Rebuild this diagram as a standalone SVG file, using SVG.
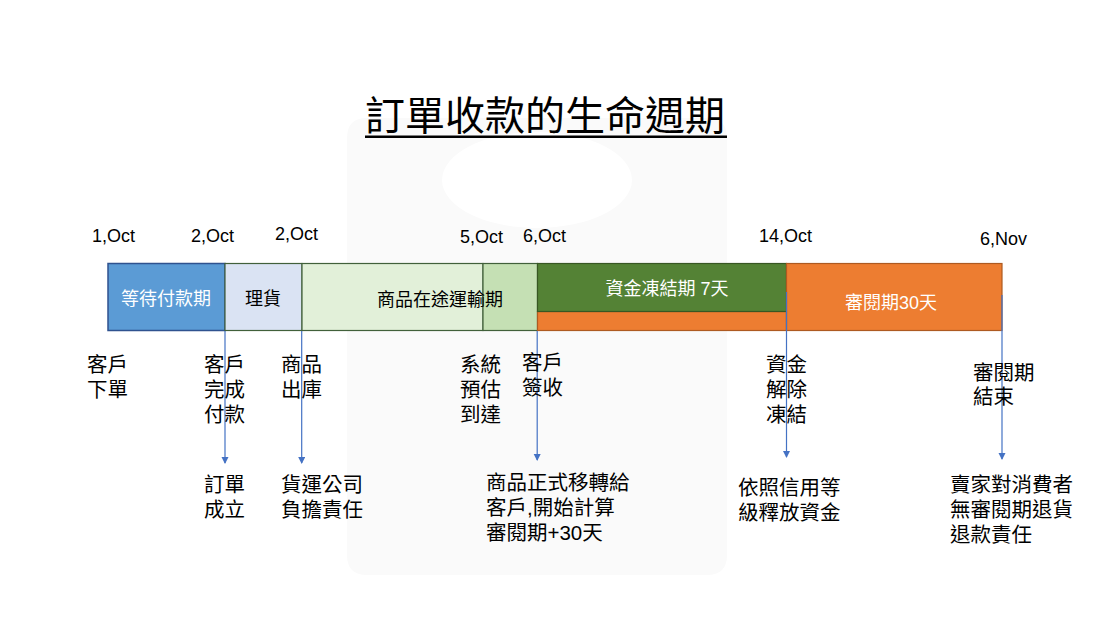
<svg xmlns="http://www.w3.org/2000/svg" width="1110" height="624" viewBox="0 0 1110 624">
<defs>
<style>
.date{font-family:"Liberation Sans","Noto Sans CJK TC",sans-serif;font-size:18px;fill:#000}
.bt{font-family:"Liberation Sans","Noto Sans CJK TC",sans-serif;font-size:18px}
.lb{font-family:"Liberation Sans","Noto Sans CJK TC",sans-serif;font-size:20.5px;fill:#000}
.title{font-family:"Noto Sans CJK TC","Liberation Sans",sans-serif;font-size:40px;fill:#000}
.conn{stroke:#4472C4;stroke-width:1.2;fill:none;marker-end:url(#arr)}
</style>
<marker id="arr" markerWidth="8" markerHeight="8" refX="6" refY="3.5" orient="auto" markerUnits="userSpaceOnUse">
<path d="M0,0 L7,3.5 L0,7 Z" fill="#4472C4"/>
</marker>
</defs>
<rect width="1110" height="624" fill="#fff"/>
<g id="bg-logo">
<path d="M367,118 H707 Q727,118 727,138 V555 Q727,575 707,575 H367 Q347,575 347,555 V138 Q347,118 367,118 Z M442,180 A95,48 0 1,0 632,180 A95,48 0 1,0 442,180 Z" fill="#fafafa" fill-rule="evenodd"/>
</g>
<g id="title">
<text class="title" x="365" y="130">訂單收款的生命週期</text>
<rect x="365" y="135.5" width="362" height="2.5" fill="#000"/>
</g>
<g id="dates">
<text class="date" x="92" y="242">1,Oct</text>
<text class="date" x="191" y="242">2,Oct</text>
<text class="date" x="275" y="240">2,Oct</text>
<text class="date" x="460" y="243">5,Oct</text>
<text class="date" x="523" y="242">6,Oct</text>
<text class="date" x="759" y="242">14,Oct</text>
<text class="date" x="980" y="245">6,Nov</text>
</g>
<g id="seg-wait">
<rect x="108" y="263.5" width="117" height="67" fill="#5B9BD5" stroke="#2F528F" stroke-width="1.5"/>
<text class="bt" x="166" y="305" text-anchor="middle" fill="#fff">等待付款期</text>
</g>
<g id="seg-pick">
<rect x="225" y="263.5" width="77" height="67" fill="#DAE3F3" stroke="#41603a" stroke-width="1.2"/>
<text class="bt" x="263" y="305" text-anchor="middle" fill="#000">理貨</text>
</g>
<g id="seg-transit">
<rect x="302" y="263.5" width="181" height="67" fill="#E2F0D9" stroke="#41603a" stroke-width="1.2"/>
<rect x="483" y="263.5" width="54.5" height="67" fill="#C5E0B4" stroke="#41603a" stroke-width="1.2"/>
<text class="bt" x="440" y="306" text-anchor="middle" fill="#000">商品在途運輸期</text>
</g>
<g id="seg-freeze">
<rect x="537.5" y="311.5" width="249" height="19" fill="#ED7D31" stroke="#AE5A21" stroke-width="1.2"/>
<rect x="537.5" y="263.5" width="249" height="48" fill="#548235" stroke="#385723" stroke-width="1.2"/>
<text class="bt" x="667" y="295" text-anchor="middle" fill="#fff">資金凍結期 7天</text>
</g>
<g id="seg-review">
<rect x="786.5" y="263.5" width="215.5" height="67" fill="#ED7D31" stroke="#AE5A21" stroke-width="1.2"/>
<text class="bt" x="891" y="309" text-anchor="middle" fill="#fff">審閱期30天</text>
</g>
<g id="connectors">
<line class="conn" x1="225" y1="331" x2="225" y2="463"/>
<line class="conn" x1="301.7" y1="331" x2="301.7" y2="463"/>
<line class="conn" x1="537.2" y1="331" x2="537.2" y2="460"/>
<line class="conn" x1="786.5" y1="292" x2="786.5" y2="457"/>
<line class="conn" x1="1002" y1="295" x2="1002" y2="459"/>
</g>
<g id="ev-order">
<text class="lb" x="87" y="372">客戶</text>
<text class="lb" x="87" y="397">下單</text>
</g>
<g id="ev-paid">
<text class="lb" x="204" y="372">客戶</text>
<text class="lb" x="204" y="397">完成</text>
<text class="lb" x="204" y="422">付款</text>
</g>
<g id="ev-ship">
<text class="lb" x="281" y="372">商品</text>
<text class="lb" x="281" y="397">出庫</text>
</g>
<g id="res-order">
<text class="lb" x="204" y="492">訂單</text>
<text class="lb" x="204" y="517">成立</text>
</g>
<g id="res-ship">
<text class="lb" x="281" y="492">貨運公司</text>
<text class="lb" x="281" y="517">負擔責任</text>
</g>
<g id="ev-eta">
<text class="lb" x="460" y="372">系統</text>
<text class="lb" x="460" y="397">預估</text>
<text class="lb" x="460" y="422">到達</text>
</g>
<g id="ev-sign">
<text class="lb" x="522" y="370">客戶</text>
<text class="lb" x="522" y="395">簽收</text>
</g>
<g id="res-sign">
<text class="lb" x="486" y="490">商品正式移轉給</text>
<text class="lb" x="486" y="515">客戶,開始計算</text>
<text class="lb" x="486" y="540">審閱期+30天</text>
</g>
<g id="ev-release">
<text class="lb" x="766" y="372">資金</text>
<text class="lb" x="766" y="397">解除</text>
<text class="lb" x="766" y="422">凍結</text>
</g>
<g id="res-release">
<text class="lb" x="738" y="495">依照信用等</text>
<text class="lb" x="738" y="520">級釋放資金</text>
</g>
<g id="ev-review-end">
<text class="lb" x="973" y="380">審閱期</text>
<text class="lb" x="973" y="404">結束</text>
</g>
<g id="res-review-end">
<text class="lb" x="950" y="492">賣家對消費者</text>
<text class="lb" x="950" y="517">無審閱期退貨</text>
<text class="lb" x="950" y="542">退款責任</text>
</g>
</svg>
